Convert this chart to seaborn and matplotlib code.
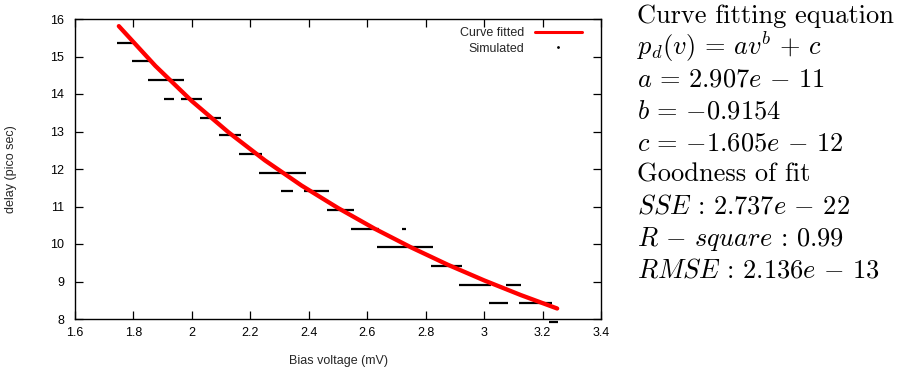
import numpy as np
import pandas as pd
import seaborn as sns
import matplotlib
matplotlib.use("Agg")
import matplotlib.pyplot as plt
from matplotlib.lines import Line2D

# ---- data ----
# fitted curve
fit_v = [1.75, 1.875, 2.0, 2.125, 2.25, 2.375, 2.5, 2.625, 2.75, 2.875, 3.0, 3.125, 3.25]
fit_d = [15.81, 14.75, 13.81, 12.98, 12.23, 11.56, 10.96, 10.41, 9.91, 9.45, 9.03, 8.64, 8.28]

# simulated delays: quantised levels, each spanning a voltage interval
sim_delay = [15.37, 14.88, 14.38, 13.87, 13.87, 13.37, 12.90, 12.39, 11.89,
             11.41, 11.41, 10.90, 10.40, 10.40, 9.91, 9.41, 8.91, 8.91,
             8.43, 8.43, 7.92]
sim_vmin = [1.744, 1.795, 1.849, 1.905, 1.964, 2.027, 2.093, 2.161, 2.231,
            2.305, 2.383, 2.462, 2.546, 2.719, 2.634, 2.818, 2.914, 3.075,
            3.016, 3.118, 3.222]
sim_vmax = [1.803, 1.857, 1.972, 1.938, 2.034, 2.099, 2.167, 2.240, 2.391,
            2.345, 2.470, 2.554, 2.641, 2.733, 2.826, 2.923, 3.023, 3.125,
            3.083, 3.231, 3.252]

x_ticks = [1.6, 1.8, 2.0, 2.2, 2.4, 2.6, 2.8, 3.0, 3.2, 3.4]
x_labels = ["1.6", "1.8", "2", "2.2", "2.4", "2.6", "2.8", "3", "3.2", "3.4"]
y_ticks = [8, 9, 10, 11, 12, 13, 14, 15, 16]

info_lines = [
    "Curve fitting equation",
    r"$p_d(v) \,=\, av^b \,+\, c$",
    r"$a \,=\, 2.907e \,-\, 11$",
    r"$b \,=\, {-}0.9154$",
    r"$c \,=\, {-}1.605e \,-\, 12$",
    "Goodness of fit",
    r"$SSE \,:\, 2.737e \,-\, 22$",
    r"$R \,-\, square \,:\, 0.99$",
    r"$RMSE \,:\, 2.136e \,-\, 13$",
]

# ---- styling ----
sns.set_style("ticks")
plt.rcParams["font.family"] = ["Liberation Sans", "DejaVu Sans"]
plt.rcParams["mathtext.fontset"] = "cm"

fig = plt.figure(figsize=(9.21, 3.68), dpi=100)
ax = fig.add_axes([75 / 921, 1 - 319 / 368, (601 - 75) / 921, (319 - 19) / 368])

df_fit = pd.DataFrame({"v": fit_v, "d": fit_d})
sns.lineplot(data=df_fit, x="v", y="d", ax=ax, color="#ff0000", linewidth=3.1,
             sort=False, zorder=3, legend=False)

ax.hlines(sim_delay, sim_vmin, sim_vmax, colors="black", linewidth=1.6,
          zorder=2, clip_on=False)

ax.set_xlim(1.6, 3.4)
ax.set_ylim(8, 16)
ax.set_xticks(x_ticks)
ax.set_xticklabels(x_labels)
ax.set_yticks(y_ticks)
ax.tick_params(direction="in", length=6, width=0.9, colors="black", labelsize=9,
               top=True, right=True, labeltop=False, labelright=False)
ax.tick_params(axis="y", pad=8)
ax.tick_params(axis="x", pad=6)
for s in ax.spines.values():
    s.set_visible(True)
    s.set_color("black")
    s.set_linewidth(1.0)

ax.set_xlabel("Bias voltage (mV)", fontsize=9)
ax.set_ylabel("delay (pico sec)", fontsize=9)
ax.xaxis.set_label_coords((338 - 75) / 526, -(355 - 319) / 300)
ax.yaxis.set_label_coords(-(75 - 17) / 526, 0.5)

handles = [Line2D([], [], color="#ff0000", linewidth=2.2),
           Line2D([], [], color="black", marker=".", markersize=2, linestyle="none")]
leg = fig.legend(handles, ["Curve fitted", "Simulated"], loc="upper right",
                 bbox_to_anchor=(582 / 921, 1 - 27 / 368), frameon=False,
                 markerfirst=False, fontsize=9, handlelength=3.8, handletextpad=0.8,
                 labelspacing=0.3, borderpad=0, borderaxespad=0)

y0 = 23
for i, t in enumerate(info_lines):
    kw = dict(fontsize=19, ha="left", va="baseline", color="black")
    if not t.startswith("$"):
        kw["family"] = "cmr10"
    fig.text(637 / 921, 1 - (y0 + i * 31.8) / 368, t, **kw)

fig.savefig("out.png", dpi=100)
